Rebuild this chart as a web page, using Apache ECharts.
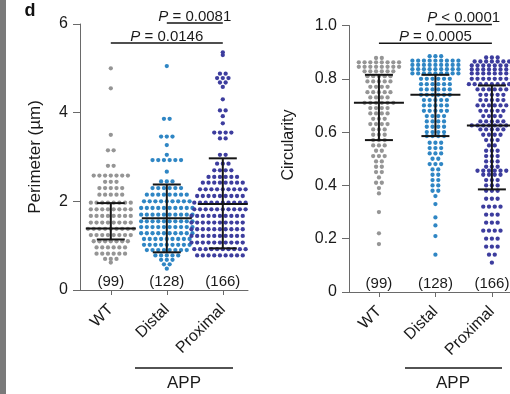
<!DOCTYPE html>
<html>
<head>
<meta charset="utf-8">
<script src="https://cdn.jsdelivr.net/npm/echarts@6/dist/echarts.min.js"></script>
<style>
  html, body { margin: 0; padding: 0; background: #fff; }
  #chart { width: 510px; height: 394px; }
</style>
</head>
<body>
<div id="chart"></div>
<script>
const groups = ['WT', 'Distal', 'Proximal']

// dot rows: [value, number of dots in the row]
const wtPerimeter = [
  [5.0, 1], [4.55, 1], [3.5, 1], [3.15, 2], [2.8, 2], [2.58, 7], [2.44, 3], [2.3, 5], [2.15, 5],
  [1.97, 8], [1.82, 8], [1.67, 8], [1.52, 8], [1.38, 9], [1.24, 8], [1.1, 7], [0.96, 6], [0.82, 6], [0.7, 3], [0.62, 1]
]
const distalPerimeter = [
  [5.05, 1], [3.86, 2], [3.46, 3], [3.27, 1], [3.05, 1], [2.93, 6], [2.67, 1], [2.45, 3],
  [2.3, 6], [2.15, 8], [2.0, 9], [1.85, 10], [1.7, 10], [1.55, 10], [1.42, 10], [1.28, 10], [1.15, 9], [1.02, 9],
  [0.9, 8], [0.78, 5], [0.68, 3], [0.58, 2], [0.48, 1]
]
const proximalPerimeter = [
  [5.36, 1], [5.3, 1], [4.88, 2], [4.78, 3], [4.68, 2], [4.58, 1], [4.3, 1], [4.05, 2], [3.92, 1], [3.76, 1],
  [3.55, 4], [3.42, 2], [3.05, 2], [2.85, 3], [2.7, 4], [2.55, 6],
  [2.42, 8], [2.27, 9], [2.12, 10], [1.97, 11], [1.82, 11], [1.67, 12], [1.52, 12], [1.37, 12], [1.22, 12], [1.07, 12],
  [0.92, 11], [0.78, 10]
]
const wtCircularity = [
  [0.878, 2], [0.862, 8], [0.845, 8], [0.828, 6], [0.81, 5], [0.79, 5], [0.77, 4], [0.75, 5], [0.73, 4], [0.71, 6],
  [0.69, 4], [0.67, 4], [0.65, 3], [0.63, 4], [0.61, 3], [0.59, 3], [0.57, 3], [0.55, 3], [0.53, 2], [0.51, 3],
  [0.49, 2], [0.47, 2], [0.45, 2], [0.43, 1], [0.41, 2], [0.39, 1], [0.37, 1], [0.3, 1], [0.22, 1], [0.18, 1]
]
const distalCircularity = [
  [0.885, 3], [0.868, 9], [0.852, 9], [0.836, 9], [0.82, 9], [0.8, 6], [0.78, 6], [0.76, 6], [0.74, 6], [0.72, 5],
  [0.7, 5], [0.68, 5], [0.66, 4], [0.64, 4], [0.62, 4], [0.6, 4], [0.585, 4], [0.56, 3], [0.54, 3], [0.52, 3],
  [0.5, 2], [0.48, 3], [0.46, 2], [0.44, 2], [0.42, 2], [0.4, 2], [0.38, 2], [0.36, 1], [0.33, 1], [0.28, 1],
  [0.25, 1], [0.21, 1], [0.14, 1]
]
const proximalCircularity = [
  [0.88, 3], [0.865, 7], [0.85, 8], [0.835, 8], [0.82, 8], [0.8, 8], [0.78, 9], [0.76, 6], [0.74, 5], [0.72, 5],
  [0.7, 6], [0.68, 5], [0.66, 4], [0.64, 5], [0.625, 8], [0.61, 5], [0.59, 4], [0.57, 3], [0.55, 2], [0.53, 3],
  [0.51, 3], [0.49, 3], [0.47, 3], [0.455, 6], [0.44, 4], [0.42, 3], [0.4, 3], [0.38, 3], [0.35, 3], [0.32, 4],
  [0.29, 3], [0.26, 3], [0.23, 4], [0.2, 3], [0.17, 3], [0.14, 2], [0.11, 1]
]

// black bars: centre line and whisker ends
const perimCenter = [1.39, 1.62, 1.94]
const perimLow = [1.14, 0.85, 0.94]
const perimHigh = [1.96, 2.38, 2.97]
const circCenter = [0.71, 0.74, 0.625]
const circLow = [0.57, 0.585, 0.385]
const circHigh = [0.815, 0.815, 0.775]

// significance brackets: [from group, to group, height]
const perimSig = [[1, 2, 6.02], [0, 2, 5.57]]
const perimSigText = ['{i|P} = 0.0081', '{i|P} = 0.0146']
const circSig = [[1, 2, 1.004], [0, 2, 0.933]]
const circSigText = ['{i|P} < 0.0001', '{i|P} = 0.0005']

const colors = ['#959595', '#2f86c4', '#3d3d9e']
const FONT = 'Liberation Sans, Arial, sans-serif'
const DOT_GAP = 5.7   // px between dots in a row
const PX_PER_GROUP = 56

const chart = echarts.init(document.getElementById('chart'))

const swarm = (rows, gi) => {
  const pts = []
  rows.forEach(([v, n]) => {
    for (let i = 0; i < n; i++) {
      pts.push([gi + (i - (n - 1) / 2) * DOT_GAP / PX_PER_GROUP, v])
    }
  })
  return pts
}
const countOf = rows => rows.reduce((s, r) => s + r[1], 0)

const errorBarSeries = (idx, center, low, high) => ({
  type: 'custom',
  xAxisIndex: idx,
  yAxisIndex: idx,
  z: 5,
  silent: true,
  data: center.map((c, i) => [i, c, low[i], high[i]]),
  renderItem: (params, api) => {
    const m = api.coord([api.value(0), api.value(1)])
    const lo = api.coord([api.value(0), api.value(2)])
    const hi = api.coord([api.value(0), api.value(3)])
    const st = { stroke: '#151515', lineWidth: 2 }
    return {
      type: 'group',
      children: [
        { type: 'line', shape: { x1: m[0] - 25, y1: m[1], x2: m[0] + 25, y2: m[1] }, style: st },
        { type: 'line', shape: { x1: lo[0], y1: lo[1], x2: hi[0], y2: hi[1] }, style: st },
        { type: 'line', shape: { x1: lo[0] - 14, y1: lo[1], x2: lo[0] + 14, y2: lo[1] }, style: st },
        { type: 'line', shape: { x1: hi[0] - 14, y1: hi[1], x2: hi[0] + 14, y2: hi[1] }, style: st }
      ]
    }
  }
})

const sigSeries = (idx, sig, texts) => ({
  type: 'custom',
  xAxisIndex: idx,
  yAxisIndex: idx,
  silent: true,
  clip: false,
  data: sig,
  renderItem: (params, api) => {
    const a = api.coord([api.value(0), api.value(2)])
    const b = api.coord([api.value(1), api.value(2)])
    return {
      type: 'group',
      children: [
        { type: 'line', shape: { x1: a[0], y1: a[1], x2: b[0], y2: b[1] }, style: { stroke: '#151515', lineWidth: 1.5 } },
        {
          type: 'text',
          x: (a[0] + b[0]) / 2,
          y: a[1] + 1,
          style: {
            text: texts[params.dataIndex],
            fontSize: 15, fontFamily: FONT, fill: '#1a1a1a',
            align: 'center', verticalAlign: 'bottom',
            rich: { i: { fontStyle: 'italic', fontSize: 15, fontFamily: FONT, fill: '#1a1a1a' } }
          }
        }
      ]
    }
  }
})

const countSeries = (idx, sets) => ({
  type: 'scatter',
  xAxisIndex: idx,
  yAxisIndex: idx,
  symbolSize: 0,
  silent: true,
  itemStyle: { opacity: 1 },
  data: sets.map((s, i) => [i, 0]),
  label: {
    show: true,
    position: 'top',
    distance: 1,
    fontSize: 15,
    fontFamily: FONT,
    color: '#1a1a1a',
    opacity: 1,
    formatter: p => '(' + countOf(sets[p.dataIndex]) + ')'
  }
})

const dotSeries = (idx, sets) => sets.map((rows, gi) => ({
  type: 'scatter',
  xAxisIndex: idx,
  yAxisIndex: idx,
  symbolSize: 4.3,
  silent: true,
  itemStyle: { color: colors[gi], opacity: 1 },
  data: swarm(rows, gi)
}))

const xAxisOf = (idx, min, max) => ({
  type: 'value',
  gridIndex: idx,
  min, max,
  splitLine: { show: false },
  axisLine: { show: true, onZero: false, lineStyle: { color: '#6a6a6a', width: 1 } },
  axisTick: { show: true, customValues: [0, 1, 2], length: 5, lineStyle: { color: '#6a6a6a' } },
  axisLabel: {
    customValues: [0, 1, 2],
    formatter: v => groups[Math.round(v)],
    rotate: 45,
    margin: 17,
    fontSize: 16,
    fontFamily: FONT,
    color: '#1a1a1a'
  }
})

const yAxisOf = (idx, max, interval, fmt) => ({
  type: 'value',
  gridIndex: idx,
  min: 0, max, interval,
  splitLine: { show: false },
  axisLine: { show: true, onZero: false, lineStyle: { color: '#6a6a6a', width: 1 } },
  axisTick: { show: true, length: 7, lineStyle: { color: '#6a6a6a' } },
  axisLabel: { margin: 12, fontSize: 16, fontFamily: FONT, color: '#1a1a1a', formatter: fmt }
})

const perimSets = [wtPerimeter, distalPerimeter, proximalPerimeter]
const circSets = [wtCircularity, distalCircularity, proximalCircularity]

const option = {
  animation: false,
  backgroundColor: '#fff',
  grid: [
    { left: 80, top: 24, width: 168, height: 266, outerBoundsMode: 'none' },
    { left: 349, top: 25.5, width: 170, height: 266.5, outerBoundsMode: 'none' }
  ],
  xAxis: [xAxisOf(0, -0.55, 2.45), xAxisOf(1, -0.53, 2.48)],
  yAxis: [
    yAxisOf(0, 6, 2, v => String(v)),
    yAxisOf(1, 1, 0.2, v => (v === 0 ? '0' : v.toFixed(1)))
  ],
  graphic: [
    { type: 'rect', left: 0, top: 0, shape: { width: 6, height: 394 }, style: { fill: '#7a7a7a' } },
    { type: 'text', x: 30, y: 11, style: { text: 'd', fontSize: 18, fontWeight: 'bold', fontFamily: FONT, fill: '#111', align: 'center', verticalAlign: 'middle' } },
    { type: 'text', x: 35, y: 157, rotation: Math.PI / 2, style: { text: 'Perimeter (µm)', fontSize: 17, fontFamily: FONT, fill: '#1a1a1a', align: 'center', verticalAlign: 'middle' } },
    { type: 'text', x: 289, y: 145, rotation: Math.PI / 2, style: { text: 'Circularity', fontSize: 16, fontFamily: FONT, fill: '#1a1a1a', align: 'center', verticalAlign: 'middle' } },
    { type: 'line', shape: { x1: 135, y1: 368, x2: 233, y2: 368 }, style: { stroke: '#1a1a1a', lineWidth: 1.5 } },
    { type: 'text', x: 184, y: 383, style: { text: 'APP', fontSize: 17, fontFamily: FONT, fill: '#1a1a1a', align: 'center', verticalAlign: 'middle' } },
    { type: 'line', shape: { x1: 405, y1: 368, x2: 502, y2: 368 }, style: { stroke: '#1a1a1a', lineWidth: 1.5 } },
    { type: 'text', x: 453, y: 383, style: { text: 'APP', fontSize: 17, fontFamily: FONT, fill: '#1a1a1a', align: 'center', verticalAlign: 'middle' } }
  ],
  series: [
    ...dotSeries(0, perimSets),
    errorBarSeries(0, perimCenter, perimLow, perimHigh),
    sigSeries(0, perimSig, perimSigText),
    countSeries(0, perimSets),
    ...dotSeries(1, circSets),
    errorBarSeries(1, circCenter, circLow, circHigh),
    sigSeries(1, circSig, circSigText),
    countSeries(1, circSets)
  ]
}

chart.setOption(option)
</script>
</body>
</html>
